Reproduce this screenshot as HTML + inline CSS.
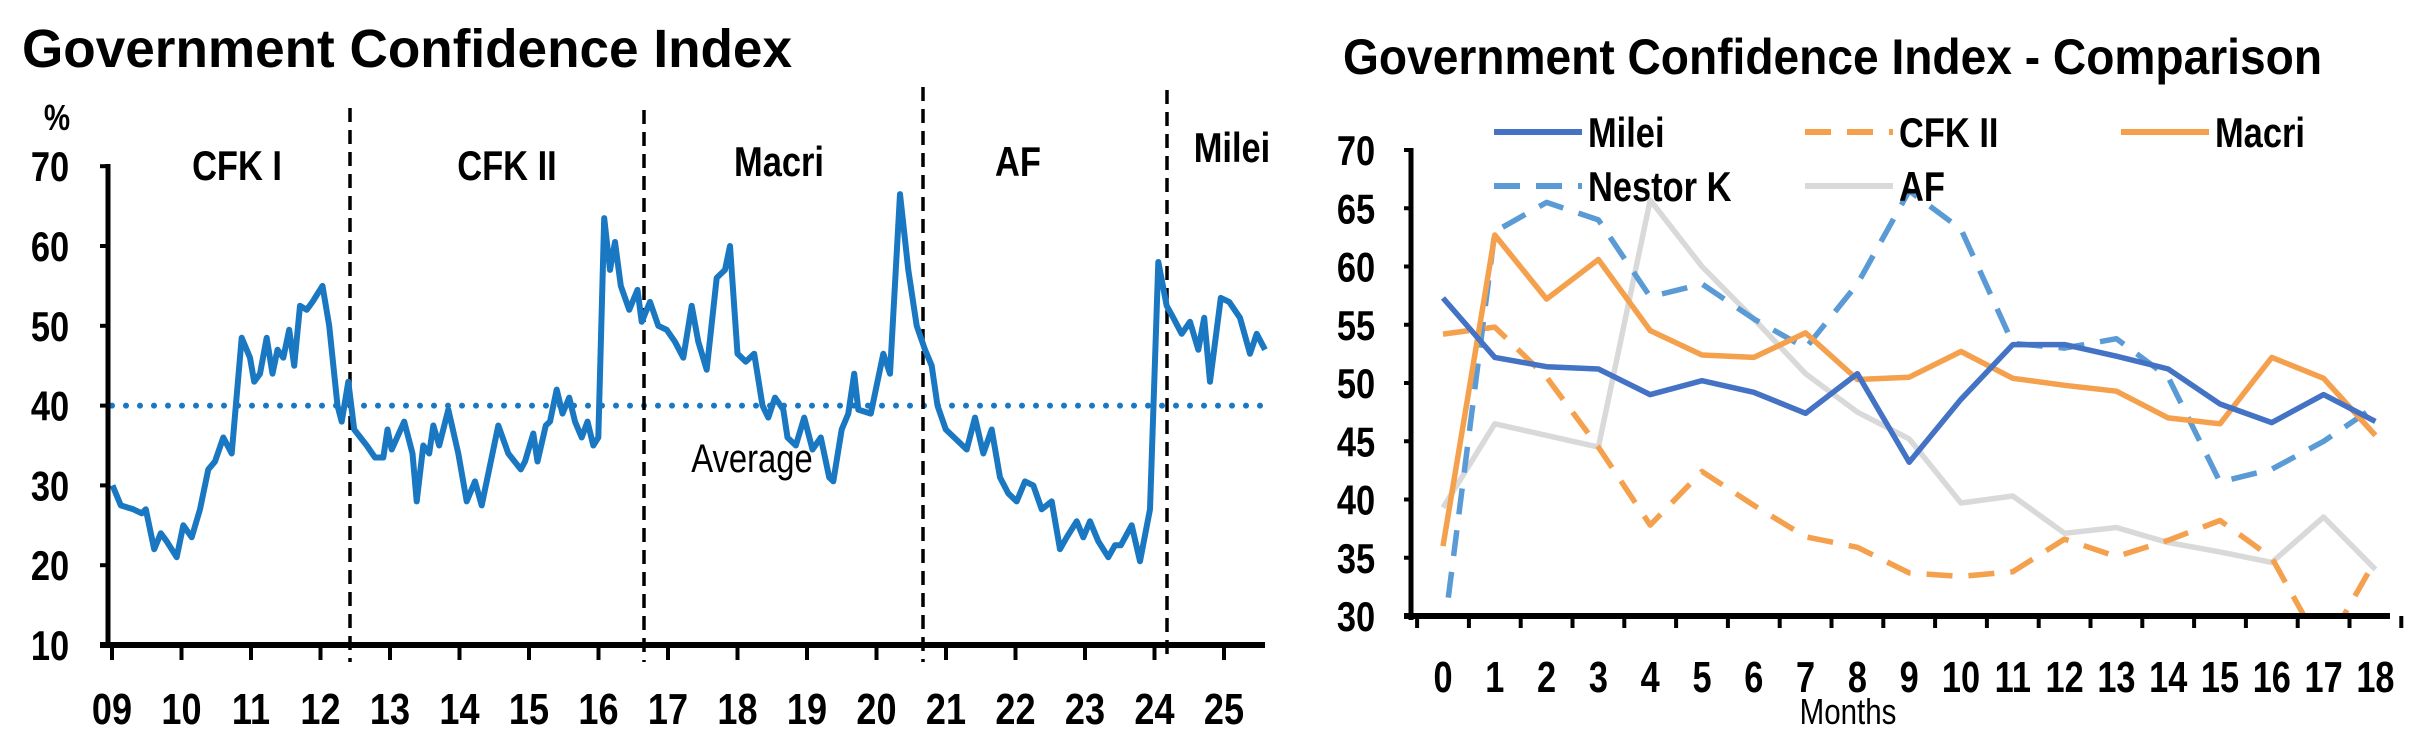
<!DOCTYPE html>
<html><head><meta charset="utf-8"><style>
html,body{margin:0;padding:0;background:#fff;width:2418px;height:742px;overflow:hidden}
svg{display:block}
text{font-family:"Liberation Sans Narrow","Liberation Sans",sans-serif;font-weight:bold;fill:#000}
</style></head><body>
<svg id="s" width="2418" height="742" xmlns="http://www.w3.org/2000/svg">
<text x="22" y="67" font-size="54" textLength="770" lengthAdjust="spacingAndGlyphs">Government Confidence Index</text>
<text x="1343" y="74" font-size="50" textLength="979" lengthAdjust="spacingAndGlyphs">Government Confidence Index - Comparison</text>
<g id="g"></g>
</svg>
<script>
var NS="http://www.w3.org/2000/svg",g=document.getElementById('g');
function el(t,a,txt){var e=document.createElementNS(NS,t);for(var k in a)e.setAttribute(k,a[k]);if(txt!=null)e.textContent=txt;g.appendChild(e);return e;}
function tx(x,y,s,anchor,str,normal,sx){sx=sx||0.82;var a={transform:'translate('+x+','+y+') scale('+sx+',1)','font-size':s,'text-anchor':anchor};if(normal)a.style='font-weight:normal';return el('text',a,str);}
// LEFT
function ly(v){return 645-(v-10)*7.98;}
function lx(zx){return zx/1.2;}
var yrs=["09","10","11","12","13","14","15","16","17","18","19","20","21","22","23","24","25"];
for(var v=10;v<=70;v+=10){tx(50,ly(v)+15,42,'middle',String(v));el('line',{x1:100,x2:108,y1:ly(v),y2:ly(v),stroke:'#000','stroke-width':4});}
tx(57,130,36,'middle','%');
for(var i=0;i<17;i++){var x=112+i*69.5;el('line',{x1:x,x2:x,y1:645,y2:660,stroke:'#000','stroke-width':4});tx(x,724,44,'middle',yrs[i]);}
tx(752,472,40,'middle','Average',true);
el('line',{x1:112,x2:1265,y1:ly(40),y2:ly(40),stroke:'#1a78c2','stroke-width':6,'stroke-dasharray':'0 14','stroke-linecap':'round'});
[[350,108],[644,110],[923,87],[1167,90]].forEach(function(d){el('line',{x1:d[0],x2:d[0],y1:d[1],y2:662,stroke:'#000','stroke-width':3.5,'stroke-dasharray':'14 8'});});
[["CFK I",237,180],["CFK II",507,180],["Macri",779,176],["AF",1018,176],["Milei",1232,162]].forEach(function(d){tx(d[1],d[2],42,'middle',d[0]);});
var L=[135,30,145,27.5,160,27,170,26.5,175,27,185,22,193,24,200,23,212,21,220,25,230,23.5,240,27,250,32,258,33,268,36,278,34,290,48.5,300,46,305,43,312,44,320,48.5,327,44,333,47,340,46,347,49.5,353,45,360,52.5,368,52,375,53,387,55,395,50,405,40,410,38,418,43,425,37,440,35,450,33.5,460,33.5,465,37,470,34.5,485,38,495,34,500,28,508,35,515,34,520,37.5,527,35,538,39.5,550,34,560,28,570,30.5,578,27.5,598,37.5,610,34,625,32,630,33,640,36.5,645,33,655,37.5,660,38,668,42,675,39,683,41,690,38,698,36,705,38,712,35,718,36,725,63.5,732,57,738,60.5,745,55,755,52,765,54.5,770,50.5,780,53,790,50,800,49.5,810,48,820,46,830,52.5,838,48,848,44.5,860,56,870,57,876,60,885,46.5,895,45.5,905,46.5,915,40,922,38.5,930,41,940,39.5,945,36,955,35,965,38.5,975,34.5,985,36,995,31,1000,30.5,1010,37,1018,39,1025,44,1030,39.5,1045,39,1060,46.5,1068,44,1080,66.5,1090,57,1100,50,1110,47,1118,45,1125,40,1135,37,1145,36,1160,34.5,1170,38.5,1180,34,1190,37,1200,31,1210,29,1220,28,1230,30.5,1240,30,1250,27,1262,28,1272,22,1280,23.5,1292,25.5,1300,23.5,1308,25.5,1318,23,1330,21,1338,22.5,1345,22.5,1358,25,1368,20.5,1380,27,1390,58,1400,52.5,1408,51,1418,49,1428,50.5,1438,47,1445,51,1452,43,1465,53.5,1475,53,1488,51,1500,46.5,1508,49,1518,47];
var p="";for(var i=0;i<L.length;i+=2)p+=(i?"L":"M")+lx(L[i]).toFixed(1)+","+ly(L[i+1]).toFixed(1);
el('path',{d:p,fill:'none',stroke:'#1a78c2','stroke-width':6,'stroke-linejoin':'round'});
el('line',{x1:108,x2:108,y1:164,y2:648,stroke:'#000','stroke-width':5});
el('line',{x1:100,x2:1265,y1:645,y2:645,stroke:'#000','stroke-width':6});
// RIGHT
function ry(v){return 616-(v-30)*11.65;}
function rx(m){return 1443+m*51.8;}
for(var v=30;v<=70;v+=5){tx(1356,ry(v)+15,42,'middle',String(v));el('line',{x1:1404,x2:1412,y1:ry(v),y2:ry(v),stroke:'#000','stroke-width':4});}
for(var m=0;m<=19;m++){var x=rx(m)-25.9;el('line',{x1:x,x2:x,y1:616,y2:628,stroke:'#000','stroke-width':4});}
for(var m=0;m<=18;m++)tx(rx(m),692,44,'middle',String(m),false,0.78);
tx(1848,724,36,'middle','Months',true);
var defs=document.createElementNS(NS,'clipPath');defs.setAttribute('id','c');var r=document.createElementNS(NS,'rect');r.setAttribute('x',1412);r.setAttribute('y',100);r.setAttribute('width',1000);r.setAttribute('height',516);defs.appendChild(r);g.appendChild(defs);
function ser(d,c,dash,w){var p="";d.forEach(function(v,i){p+=(i?"L":"M")+rx(i).toFixed(1)+","+ry(v).toFixed(1);});var a={d:p,fill:'none',stroke:c,'stroke-width':w||5.5,'stroke-linejoin':'round','clip-path':'url(#c)'};if(dash)a['stroke-dasharray']=dash;el('path',a);}
ser([39.3,46.5,45.5,44.5,65.7,60,55.5,50.8,47.5,45.2,39.7,40.3,37.1,37.6,36.3,35.5,34.6,38.5,34],'#d9d9d9');
ser([28,63,65.5,64,57.4,58.5,55.5,53,58.5,66.5,63.2,53.4,53,53.8,50.5,41.5,42.6,45,48],'#5b9bd5','26 16');
ser([54.2,54.8,50.5,44.5,37.8,42.4,39.5,36.8,35.9,33.7,33.4,33.8,36.6,35.1,36.5,38.2,35,27,34.8],'#f4a04c','26 16');
ser([36,62.7,57.2,60.6,54.5,52.4,52.2,54.3,50.3,50.5,52.7,50.4,49.8,49.3,47,46.5,52.2,50.4,45.5],'#f4a04c');
ser([57.3,52.2,51.4,51.2,49,50.2,49.2,47.4,50.8,43.2,48.6,53.3,53.3,52.3,51.2,48.2,46.6,49,46.7],'#4472c4');
el('line',{x1:1411,x2:1411,y1:148,y2:620,stroke:'#000','stroke-width':5});
el('line',{x1:1404,x2:2390,y1:616,y2:616,stroke:'#000','stroke-width':6});
// legend
[["Milei",1494,132,'#4472c4',null],["CFK II",1805,132,'#f4a04c','26 16'],["Macri",2121,132,'#f4a04c',null],["Nestor K",1494,186,'#5b9bd5','26 16'],["AF",1805,186,'#d9d9d9',null]].forEach(function(d){var a={x1:d[1],x2:d[1]+88,y1:d[2],y2:d[2],stroke:d[3],'stroke-width':6};if(d[4])a['stroke-dasharray']=d[4];el('line',a);tx(d[1]+94,d[2]+15,42,'start',d[0]);});
</script>
</body></html>
